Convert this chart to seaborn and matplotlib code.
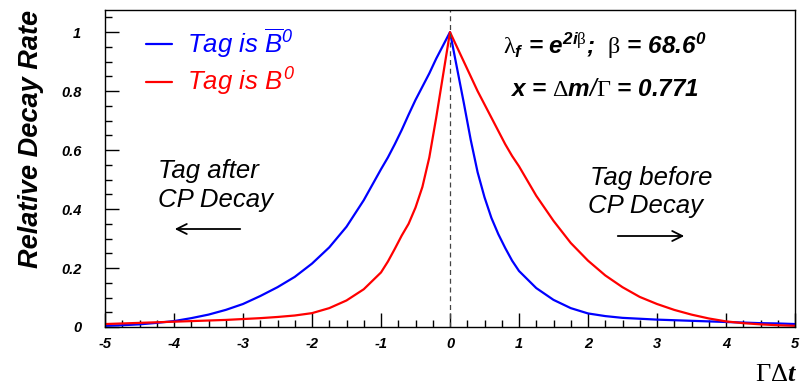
import matplotlib.pyplot as plt
import numpy as np
import pandas as pd
import seaborn as sns

t_vals = [-5.0, -4.75, -4.5, -4.25, -4.0, -3.75, -3.5, -3.25, -3.0, -2.75, -2.5, -2.25,
          -2.0, -1.75, -1.5, -1.25,
          -1.0, -0.9, -0.8, -0.7, -0.6, -0.5, -0.4, -0.3, -0.2, -0.1, 0.0,
          0.1, 0.2, 0.3, 0.4, 0.5, 0.6, 0.7, 0.8, 0.9, 1.0,
          1.25, 1.5, 1.75, 2.0, 2.25, 2.5, 2.75, 3.0, 3.25, 3.5, 3.75,
          4.0, 4.25, 4.5, 4.75, 5.0]

# Tag is B0-bar (blue)
rate_bbar = [0.004, 0.006, 0.009, 0.014, 0.020, 0.030, 0.042, 0.058, 0.078, 0.105, 0.135, 0.170,
             0.215, 0.270, 0.340, 0.430,
             0.535, 0.575, 0.620, 0.668, 0.720, 0.770, 0.815, 0.860, 0.910, 0.955, 1.000,
             0.880, 0.760, 0.635, 0.525, 0.440, 0.370, 0.315, 0.268, 0.225, 0.190,
             0.132, 0.092, 0.064, 0.046, 0.037, 0.031, 0.028, 0.025, 0.023, 0.021, 0.019,
             0.017, 0.015, 0.013, 0.012, 0.010]

# Tag is B0 (red)
rate_b = [0.010, 0.012, 0.014, 0.016, 0.018, 0.020, 0.022, 0.024, 0.027, 0.030, 0.034, 0.039,
          0.047, 0.064, 0.090, 0.128,
          0.185, 0.222, 0.265, 0.310, 0.350, 0.405, 0.475, 0.575, 0.710, 0.855, 1.000,
          0.950, 0.900, 0.850, 0.800, 0.755, 0.710, 0.665, 0.620, 0.580, 0.545,
          0.445, 0.360, 0.285, 0.225, 0.175, 0.135, 0.102, 0.078, 0.058, 0.042, 0.029,
          0.019, 0.013, 0.009, 0.006, 0.004]

labels = [r"Tag is $\overline{B}^{0}$", r"Tag is $B^{0}$"]

df = pd.DataFrame({
    "t": t_vals * 2,
    "rate": rate_bbar + rate_b,
    "tag": [labels[0]] * len(t_vals) + [labels[1]] * len(t_vals),
})

sns.set_theme(style="ticks")
plt.rcParams["font.family"] = ["Liberation Sans", "DejaVu Sans"]
plt.rcParams["text.color"] = "black"
plt.rcParams["axes.labelcolor"] = "black"
plt.rcParams["xtick.color"] = "black"
plt.rcParams["ytick.color"] = "black"
plt.rcParams["mathtext.fontset"] = "custom"
plt.rcParams["mathtext.rm"] = "Liberation Sans:italic"
plt.rcParams["mathtext.it"] = "Liberation Sans:italic"
plt.rcParams["mathtext.bf"] = "Liberation Sans:italic:bold"
plt.rcParams["mathtext.sf"] = "Liberation Serif"
plt.rcParams["mathtext.tt"] = "Liberation Serif:italic:bold"

W, H = 808, 389
fig, ax = plt.subplots(figsize=(W / 100, H / 100), dpi=100)
fig.subplots_adjust(left=105 / W, right=795 / W, bottom=1 - 327 / H, top=1 - 10 / H)

sns.lineplot(data=df, x="t", y="rate", hue="tag", palette=["#0000ff", "#ff0000"],
             linewidth=1.6, ax=ax)

ax.axvline(0, color="#444444", lw=0.9, ls=(0, (4, 3)))

ax.set_xlim(-5, 5)
ax.set_ylim(0, 1.075)
ax.set_xticks(np.arange(-5, 6, 1))
ax.set_xticks(np.arange(-5, 5.01, 0.25), minor=True)
ax.set_yticks(np.arange(0, 1.01, 0.2))
ax.set_yticks(np.arange(0, 1.06, 0.05), minor=True)
ax.set_xticklabels([str(v) for v in range(-5, 6)])
ax.set_yticklabels(["0", "0.2", "0.4", "0.6", "0.8", "1"])
ax.tick_params(which="major", direction="in", length=10, width=1, color="black")
ax.tick_params(which="minor", direction="in", length=5, width=1, color="black")
ax.tick_params(axis="y", which="major", pad=17)
ax.tick_params(axis="x", which="major", pad=7)
for lab in ax.get_xticklabels() + ax.get_yticklabels():
    lab.set_fontsize(10.5)
    lab.set_fontweight("bold")
    lab.set_fontstyle("italic")
for sp in ax.spines.values():
    sp.set_visible(True)
    sp.set_color("black")
    sp.set_linewidth(1)

ax.set_xlabel("")
ax.set_ylabel("")

fig.text(31 / W, 1 - 139 / H, "Relative Decay Rate", rotation=90, ha="center",
         va="center", fontsize=19.5, fontweight="bold", fontstyle="italic")
fig.text(797 / W, 1 - 381 / H, r"$\mathsf{\Gamma\Delta}\mathtt{t}$", ha="right",
         va="baseline", fontsize=19)

leg = ax.legend(loc="upper left", bbox_to_anchor=(0.026, 1.02), frameon=False,
                fontsize=18.5, handlelength=1.0, handletextpad=0.58, labelspacing=0.22)
for txt, col in zip(leg.get_texts(), ["#0000ff", "#ff0000"]):
    txt.set_color(col)
    txt.set_fontstyle("italic")

fig.text(503 / W, 1 - 54 / H,
         r"$\mathsf{\lambda}_{\mathbf{f}}$ = $\mathbf{e}^{\mathbf{2i}\mathsf{\beta}}$;  "
         r"$\mathsf{\beta}$ = 68.6$^{\mathbf{0}}$",
         fontsize=17.5, fontweight="bold", fontstyle="italic", va="baseline")
fig.text(510 / W, 1 - 96 / H,
         r"$\mathbf{x}$ = $\mathsf{\Delta}\mathbf{m}/\mathsf{\Gamma}$ = 0.771",
         fontsize=17.5, fontweight="bold", fontstyle="italic", va="baseline")

fig.text(158 / W, 1 - 178 / H, "Tag after", fontsize=18.5, fontstyle="italic",
         va="baseline")
fig.text(158 / W, 1 - 207 / H, "CP Decay", fontsize=18.5, fontstyle="italic",
         va="baseline")
fig.text(590 / W, 1 - 185 / H, "Tag before", fontsize=18.5, fontstyle="italic",
         va="baseline")
fig.text(588 / W, 1 - 213 / H, "CP Decay", fontsize=18.5, fontstyle="italic",
         va="baseline")

ax.annotate("", xy=(172 / W, 1 - 229 / H), xytext=(243 / W, 1 - 229 / H),
            xycoords="figure fraction", textcoords="figure fraction",
            arrowprops=dict(arrowstyle="->", lw=1.3, color="black",
                            mutation_scale=18))
ax.annotate("", xy=(687 / W, 1 - 236 / H), xytext=(615 / W, 1 - 236 / H),
            xycoords="figure fraction", textcoords="figure fraction",
            arrowprops=dict(arrowstyle="->", lw=1.3, color="black",
                            mutation_scale=18))

fig.savefig("out.png", dpi=100)
